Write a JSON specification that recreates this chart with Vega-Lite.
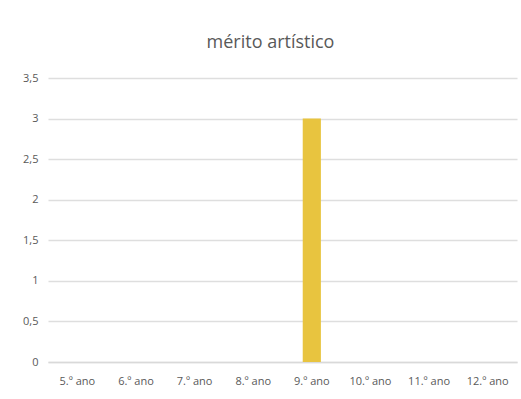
{
  "$schema": "https://vega.github.io/schema/vega-lite/v6.json",
  "autosize": "none",
  "width": 469,
  "height": 284,
  "padding": {"left": 48, "top": 78, "right": 4, "bottom": 37},
  "background": "white",
  "title": {
    "text": "mérito artístico",
    "font": "Open Sans",
    "fontSize": 18,
    "fontWeight": "normal",
    "color": "#595959",
    "anchor": "middle",
    "offset": 20,
    "dx": -12
  },
  "data": {
    "values": [
      {"ano": "5.º ano", "valor": 0},
      {"ano": "6.º ano", "valor": 0},
      {"ano": "7.º ano", "valor": 0},
      {"ano": "8.º ano", "valor": 0},
      {"ano": "9.º ano", "valor": 3},
      {"ano": "10.º ano", "valor": 0},
      {"ano": "11.º ano", "valor": 0},
      {"ano": "12.º ano", "valor": 0}
    ]
  },
  "mark": {"type": "bar", "color": "#E8C43F"},
  "encoding": {
    "x": {
      "field": "ano",
      "type": "nominal",
      "sort": null,
      "scale": {"paddingInner": 0.69, "paddingOuter": 0.345},
      "axis": {
        "title": null,
        "labelAngle": 0,
        "labelFont": "Open Sans",
        "labelFontSize": 11,
        "labelColor": "#595959",
        "ticks": false,
        "domainColor": "#d9d9d9",
        "domainWidth": 1.5,
        "labelPadding": 13
      }
    },
    "y": {
      "field": "valor",
      "type": "quantitative",
      "scale": {"domain": [0, 3.5], "nice": false},
      "axis": {
        "title": null,
        "values": [0, 0.5, 1, 1.5, 2, 2.5, 3, 3.5],
        "labelExpr": "replace(format(datum.value, '.1~f'), '.', ',')",
        "labelFont": "Open Sans",
        "labelFontSize": 11,
        "labelColor": "#595959",
        "ticks": false,
        "domain": false,
        "gridColor": "#dedede",
        "gridWidth": 1.5,
        "labelPadding": 10
      }
    }
  },
  "config": {"view": {"stroke": null}}
}
